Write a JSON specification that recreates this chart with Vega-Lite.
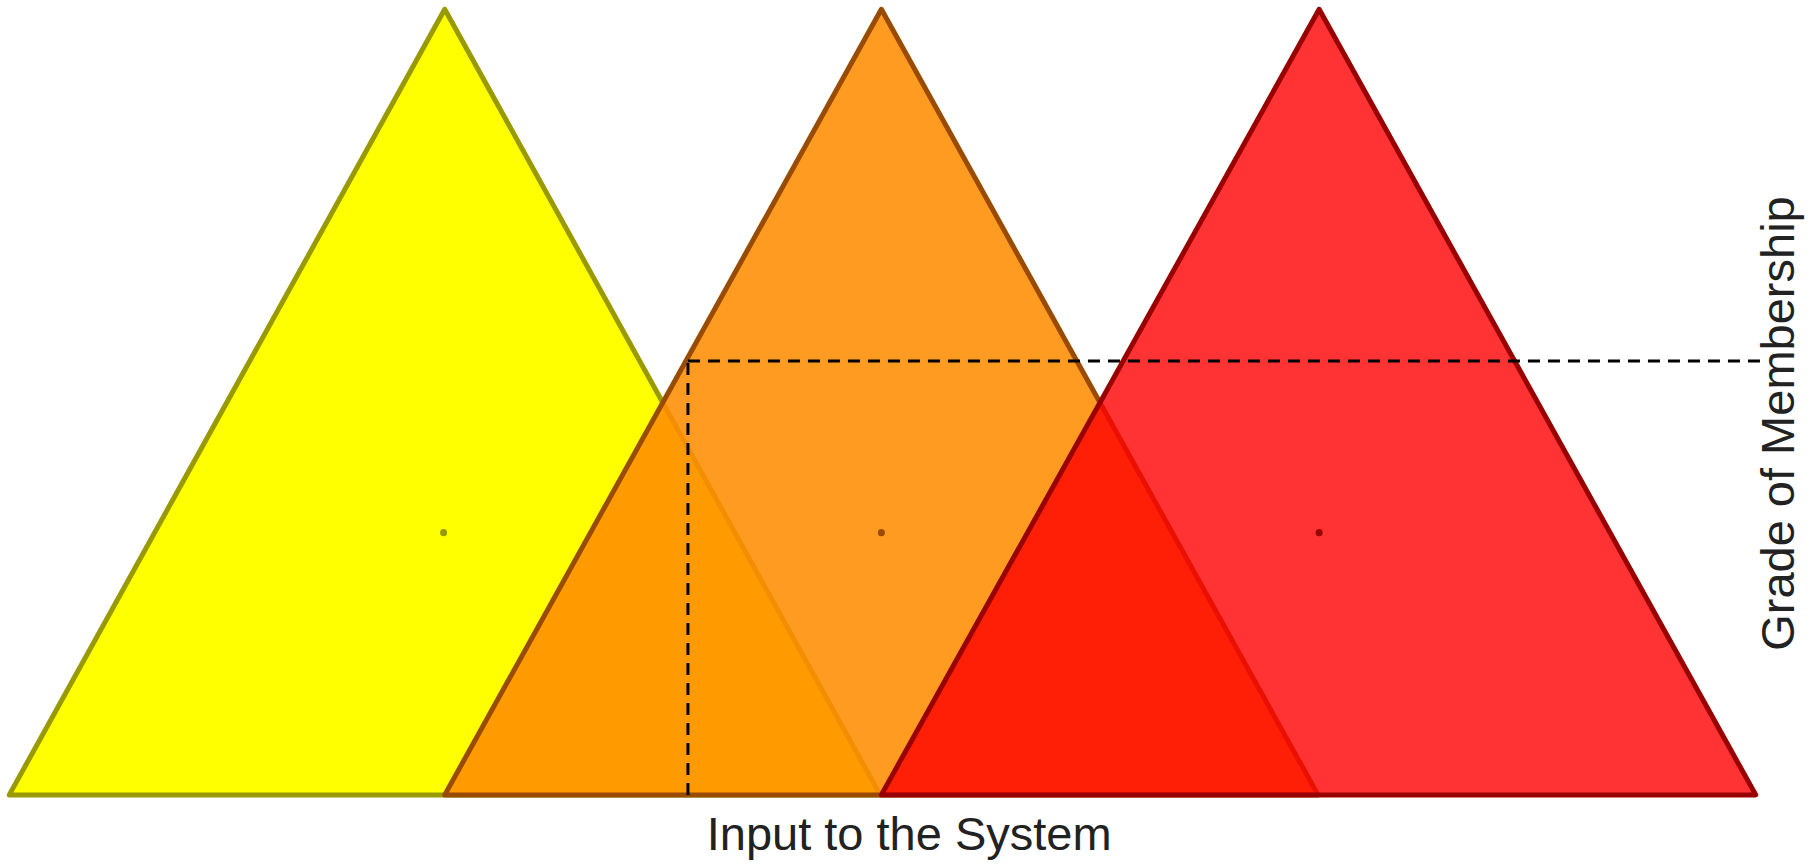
{
  "$schema": "https://vega.github.io/schema/vega-lite/v6.json",
  "width": 1816,
  "height": 868,
  "autosize": {"type": "none"},
  "padding": 0,
  "background": "white",
  "config": {"view": {"stroke": null}},
  "datasets": {
    "tri": [
      {"set": "low", "x": 8, "y": 685},
      {"set": "low", "x": 384, "y": 8},
      {"set": "low", "x": 760, "y": 685},
      {"set": "mid", "x": 384, "y": 685},
      {"set": "mid", "x": 761, "y": 8},
      {"set": "mid", "x": 1138, "y": 685},
      {"set": "high", "x": 761, "y": 685},
      {"set": "high", "x": 1139, "y": 8},
      {"set": "high", "x": 1516, "y": 685}
    ],
    "dash": [
      {"seg": "v", "o": 1, "x": 594, "y": 685},
      {"seg": "v", "o": 2, "x": 594, "y": 311},
      {"seg": "h", "o": 1, "x": 594, "y": 311},
      {"seg": "h", "o": 2, "x": 1520, "y": 311}
    ],
    "dots": [
      {"set": "low", "x": 383, "y": 459},
      {"set": "mid", "x": 761, "y": 459},
      {"set": "high", "x": 1139, "y": 459}
    ],
    "labels": [
      {"label": "Input to the System", "x": 785, "y": 720, "angle": 0},
      {"label": "Grade of Membership", "x": 1537, "y": 365, "angle": 270}
    ]
  },
  "layer": [
    {
      "data": {"name": "tri"},
      "transform": [{"filter": "datum.set === 'low'"}],
      "mark": {"type": "area", "fill": "#ffff00", "fillOpacity": 1, "stroke": "#999900", "strokeWidth": 5, "strokeJoin": "round", "strokeCap": "round"},
      "encoding": {
        "x": {"field": "x", "type": "quantitative", "scale": {"domain": [0, 1568], "nice": false}, "axis": null},
        "y": {"field": "y", "type": "quantitative", "scale": {"domain": [748, 0], "nice": false, "zero": false}, "axis": null},
        "y2": {"datum": 685}
      }
    },
    {
      "data": {"name": "tri"},
      "transform": [{"filter": "datum.set === 'mid'"}],
      "mark": {"type": "area", "fill": "#ff8c00", "fillOpacity": 0.87, "stroke": "#994c00", "strokeWidth": 5, "strokeJoin": "round", "strokeCap": "round"},
      "encoding": {
        "x": {"field": "x", "type": "quantitative"},
        "y": {"field": "y", "type": "quantitative"},
        "y2": {"datum": 685}
      }
    },
    {
      "data": {"name": "tri"},
      "transform": [{"filter": "datum.set === 'high'"}],
      "mark": {"type": "area", "fill": "#ff0000", "fillOpacity": 0.8, "stroke": "#990000", "strokeWidth": 5, "strokeJoin": "round", "strokeCap": "round"},
      "encoding": {
        "x": {"field": "x", "type": "quantitative"},
        "y": {"field": "y", "type": "quantitative"},
        "y2": {"datum": 685}
      }
    },
    {
      "data": {"name": "dash"},
      "mark": {"type": "line", "color": "black", "strokeWidth": 3, "strokeDash": [12, 8]},
      "encoding": {
        "x": {"field": "x", "type": "quantitative"},
        "y": {"field": "y", "type": "quantitative"},
        "detail": {"field": "seg"},
        "order": {"field": "o"}
      }
    },
    {
      "data": {"name": "dots"},
      "mark": {"type": "circle", "size": 50, "opacity": 1},
      "encoding": {
        "x": {"field": "x", "type": "quantitative"},
        "y": {"field": "y", "type": "quantitative"},
        "color": {"field": "set", "type": "nominal", "scale": {"domain": ["low", "mid", "high"], "range": ["#999900", "#994c00", "#990000"]}, "legend": null}
      }
    },
    {
      "data": {"name": "labels"},
      "mark": {"type": "text", "font": "Liberation Sans", "fontSize": 47, "color": "#222222", "baseline": "middle", "align": "center"},
      "encoding": {
        "x": {"field": "x", "type": "quantitative"},
        "y": {"field": "y", "type": "quantitative"},
        "text": {"field": "label"},
        "angle": {"field": "angle", "type": "quantitative", "scale": null}
      }
    }
  ]
}
